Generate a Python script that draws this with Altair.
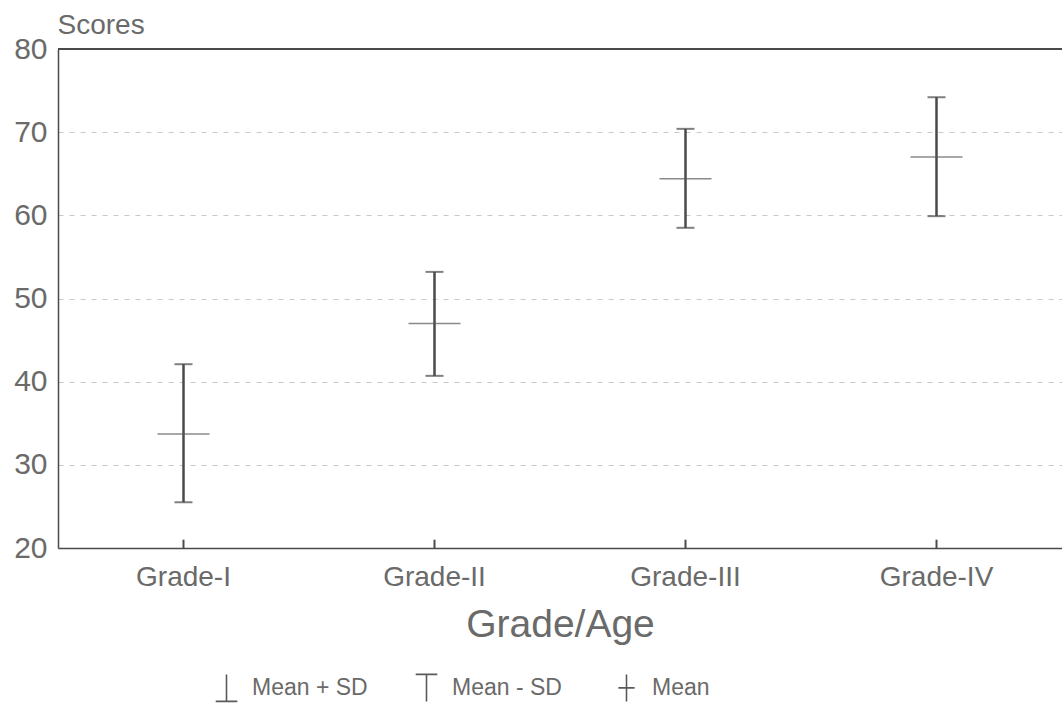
import altair as alt
import pandas as pd

grades = ["Grade-I", "Grade-II", "Grade-III", "Grade-IV"]
mean_plus_sd = [42.1, 53.2, 70.4, 74.2]
mean_vals = [33.7, 47.0, 64.4, 67.0]
mean_minus_sd = [25.5, 40.7, 58.5, 59.9]
series_names = ["Mean + SD", "Mean - SD", "Mean"]
y_ticks = [20, 30, 40, 50, 60, 70, 80]

FONT = "Liberation Sans"
TXT = "#6a6a6a"
INK = "#4a4a4a"

df = pd.DataFrame({"grade": grades, "upper": mean_plus_sd, "mean": mean_vals, "lower": mean_minus_sd})
long_rows = []
for g, u, m, l in zip(grades, mean_plus_sd, mean_vals, mean_minus_sd):
    long_rows.append({"grade": g, "series": series_names[0], "value": u})
    long_rows.append({"grade": g, "series": series_names[1], "value": l})
    long_rows.append({"grade": g, "series": series_names[2], "value": m})
long_df = pd.DataFrame(long_rows)

x_enc = alt.X("grade:N", sort=grades, scale=alt.Scale(paddingInner=0, paddingOuter=0),
              axis=alt.Axis(title="Grade/Age", labelAngle=0, labelFont=FONT, labelFontSize=28,
                            labelColor=TXT, labelPadding=15, ticks=False,
                            domainColor=INK, domainWidth=1.5,
                            titleFont=FONT, titleFontSize=39, titleFontWeight="normal",
                            titleColor=TXT, titlePadding=14))
y_scale = alt.Scale(domain=[20, 80], nice=False, zero=False)
y_axis = alt.Axis(title="Scores", values=y_ticks, labelFont=FONT, labelFontSize=30, labelColor=TXT,
                  labelPadding=11, ticks=False, domainColor=INK, domainWidth=1.5,
                  grid=True, gridColor="#c8c8c8", gridDash=[5, 6], gridWidth=1,
                  titleAngle=0, titleAlign="left", titleBaseline="alphabetic",
                  titleX=-1, titleY=-16, titleFont=FONT, titleFontSize=28,
                  titleFontWeight="normal", titleColor=TXT)

base = alt.Chart(df)

bars = base.mark_rule(color=INK, strokeWidth=2.5).encode(
    x=x_enc,
    y=alt.Y("lower:Q", scale=y_scale, axis=y_axis),
    y2="upper:Q",
)
caps_top = base.mark_tick(color=INK, thickness=2, size=18).encode(
    x=alt.X("grade:N", sort=grades), y="upper:Q")
caps_bot = base.mark_tick(color=INK, thickness=2, size=18).encode(
    x=alt.X("grade:N", sort=grades), y="lower:Q")
means = base.mark_tick(color="#5a5a5a", thickness=1.5, size=52).encode(
    x=alt.X("grade:N", sort=grades), y="mean:Q")
xticks = base.mark_rule(color=INK, strokeWidth=2).encode(
    x=alt.X("grade:N", sort=grades), y=alt.datum(20), y2=alt.datum(21))
top_border = base.mark_rule(color=INK, strokeWidth=1.5).encode(y=alt.datum(80))

shape_paths = [
    "M0,-1L0,1M-0.8,1L0.8,1",
    "M-0.8,-1L0.8,-1M0,-1L0,1",
    "M0,-1L0,1M-0.6,0L0.6,0",
]
legend_pts = alt.Chart(long_df).mark_point(filled=False, opacity=0, size=10).encode(
    x=alt.X("grade:N", sort=grades),
    y="value:Q",
    shape=alt.Shape("series:N", scale=alt.Scale(domain=series_names, range=shape_paths),
                    legend=alt.Legend(title=None, orient="none", legendX=154, legendY=624,
                                      direction="horizontal", columns=3, gridAlign="all",
                                      columnPadding=44, padding=0,
                                      symbolSize=729, symbolStrokeWidth=1.6,
                                      symbolStrokeColor="#5a5a5a", symbolFillColor="transparent",
                                      symbolOpacity=1, labelFont=FONT, labelFontSize=23,
                                      labelColor=TXT, labelOffset=11)),
)

chart = alt.layer(top_border, bars, caps_top, caps_bot, means, xticks, legend_pts).properties(
    width=1004, height=499,
    autosize=alt.AutoSizeParams(type="none"),
    padding={"left": 58, "top": 49, "right": 0, "bottom": 164},
).configure_view(stroke=None).configure(background="white")

chart.save("out.html", embed_options={"renderer": "svg", "actions": False})
